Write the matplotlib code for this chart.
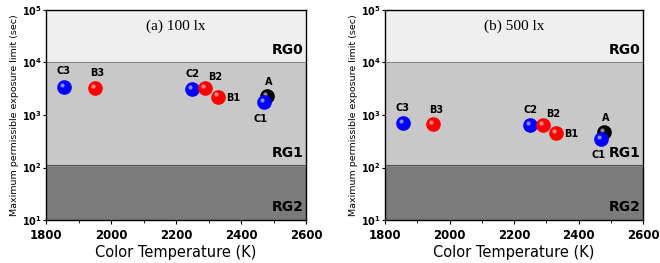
import matplotlib.pyplot as plt
import matplotlib.transforms as mtransforms
import numpy as np

# data
names = ['A', 'B1', 'B2', 'B3', 'C1', 'C2', 'C3']
colors = ['black', 'red', 'red', 'red', 'blue', 'blue', 'blue']
cct = [2480, 2330, 2290, 1950, 2470, 2250, 1855]
limit_100lx = [2300, 2250, 3250, 3300, 1750, 3150, 3450]
limit_500lx = [470, 460, 650, 665, 355, 645, 705]
panel_titles = ['(a) 100 lx', '(b) 500 lx']

# risk group boundaries (sec)
rg_bounds = [10, 110, 10000, 100000]
rg_colors = ['#7b7b7b', '#c8c8c8', '#efefef']
rg_names = ['RG2', 'RG1', 'RG0']

# label offsets (points) for each point
label_off = {'A': (1, 10), 'B1': (6, -1), 'B2': (7, 8), 'B3': (2, 10.5),
             'C1': (-2, -12), 'C2': (0, 11), 'C3': (0, 11)}
label_ha = {'A': 'center', 'B1': 'left', 'B2': 'center', 'B3': 'center',
            'C1': 'center', 'C2': 'center', 'C3': 'center'}

fig = plt.figure(figsize=(6.6, 2.63), dpi=100)
axes = [fig.add_axes([46/660, 43/263, 260/660, 210/263]),
        fig.add_axes([385/660, 43/263, 258/660, 210/263])]

for ax, vals, title in zip(axes, [limit_100lx, limit_500lx], panel_titles):
    ax.set_yscale('log')
    ax.set_xlim(1800, 2600)
    ax.set_ylim(10, 1e5)

    for i in range(3):
        ax.axhspan(rg_bounds[i], rg_bounds[i + 1], color=rg_colors[i], zorder=0)
    ax.axhline(rg_bounds[1], color='#555555', lw=0.8, zorder=1)
    ax.axhline(rg_bounds[2], color='#888888', lw=0.8, zorder=1)

    ypos = [0.03, 0.285, 0.775]
    for name, yp in zip(rg_names, ypos):
        ax.text(0.99, yp, name, transform=ax.transAxes, ha='right', va='bottom',
                fontsize=10, fontweight='bold')

    ax.text(0.5, 0.955, title, transform=ax.transAxes, ha='center', va='top',
            fontsize=11, family='Liberation Serif')

    # C1 sits in front of A
    order = [6, 5, 3, 2, 1, 0, 4]
    for i in order:
        ax.plot(cct[i], vals[i], 'o', ms=9.5, color=colors[i], mec=colors[i], zorder=3)
        hl = mtransforms.offset_copy(ax.transData, fig=fig, x=-1.5, y=1.5, units='points')
        ax.plot(cct[i], vals[i], 'o', ms=3, color='white', alpha=0.55, mec='none',
                transform=hl, zorder=3)
    for i in range(len(names)):
        dx, dy = label_off[names[i]]
        ax.annotate(names[i], (cct[i], vals[i]), xytext=(dx, dy), textcoords='offset points',
                    ha=label_ha[names[i]], va='center', fontsize=7, fontweight='bold', zorder=5)

    ax.set_xticks(np.arange(1800, 2601, 200))
    ax.set_xticks(np.arange(1900, 2600, 200), minor=True)
    ax.set_yticks([10, 100, 1000, 10000, 100000])
    ax.set_yticklabels([r'$\mathbf{10^{%d}}$' % k for k in range(1, 6)],
                       fontsize=7, family='Liberation Serif')
    ax.yaxis.set_minor_locator(plt.NullLocator())
    ax.tick_params(axis='x', labelsize=8.5, direction='out', length=3)
    ax.tick_params(axis='x', which='minor', length=2)
    ax.tick_params(axis='y', direction='out', length=2, pad=1)
    for lab in ax.get_xticklabels():
        lab.set_fontweight('bold')
    ax.set_xlabel('Color Temperature (K)', fontsize=10.5, labelpad=2)
    ax.set_ylabel('Maximum permissible exposure limit (sec)', fontsize=6.8, labelpad=2)
    for s in ax.spines.values():
        s.set_linewidth(1.0)

fig.savefig('out.png', dpi=100)
